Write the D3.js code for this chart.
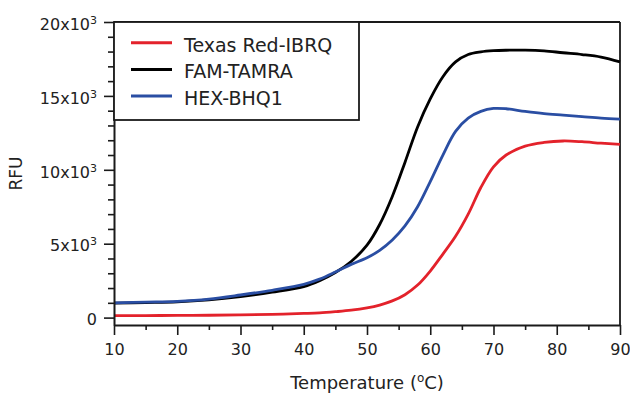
<!DOCTYPE html>
<html>
<head>
<meta charset="utf-8">
<script src="https://cdn.jsdelivr.net/npm/d3@7"></script>
<style>
  html, body { margin: 0; padding: 0; background: #fff; }
  svg { display: block; font-family: "DejaVu Sans", Verdana, sans-serif; }
</style>
</head>
<body>
<svg id="chart" width="630" height="394"></svg>
<script>
// Melting curves: fluorescence (RFU) versus temperature for three probe pairs
const temperature = [10, 15, 20, 25, 30, 35, 40, 42.5, 45, 47.5, 50, 52, 54, 56, 58, 60, 62, 64, 66, 68, 70, 72, 75, 78, 81, 84, 87, 90];

const texasRedIBRQ = [140, 140, 150, 160, 180, 220, 280, 320, 400, 500, 660, 850, 1130, 1550, 2200, 3150, 4300, 5500, 7000, 8800, 10200, 11000, 11600, 11850, 11950, 11900, 11800, 11720];
const famTamra     = [980, 1020, 1070, 1200, 1420, 1720, 2100, 2500, 3050, 3800, 4900, 6300, 8200, 10500, 12900, 14800, 16300, 17300, 17800, 17980, 18060, 18090, 18100, 18050, 17920, 17800, 17630, 17300];
const hexBHQ1      = [1000, 1050, 1100, 1250, 1530, 1850, 2250, 2600, 3080, 3600, 4050, 4550, 5250, 6200, 7500, 9200, 11000, 12600, 13500, 13950, 14150, 14130, 13950, 13800, 13700, 13600, 13500, 13430];

const seriesNames  = ["Texas Red-IBRQ", "FAM-TAMRA", "HEX-BHQ1"];
const seriesColors = ["#e3222b", "#000000", "#2a4ea3"];
const seriesValues = [texasRedIBRQ, famTamra, hexBHQ1];

const xTicks = [10, 20, 30, 40, 50, 60, 70, 80, 90];
const xMinorTicks = [15, 25, 35, 45, 55, 65, 75, 85];
const yTicks = [0, 5000, 10000, 15000, 20000];
const yTickLabels = [["0", ""], ["5x10", "3"], ["10x10", "3"], ["15x10", "3"], ["20x10", "3"]];
const yMinorTicks = [1000, 2000, 3000, 4000, 6000, 7000, 8000, 9000, 11000, 12000, 13000, 14000, 16000, 17000, 18000, 19000];

const svg = d3.select("#chart");
const plotLeft = 114, plotRight = 620, plotTop = 22, plotBottom = 325;

const x = d3.scaleLinear().domain([10, 90]).range([plotLeft, plotRight]);
const y = d3.scaleLinear().domain([-500, 20000]).range([plotBottom, plotTop]);

const axisColor = "#1a1a1a";

// Frame: top and right edges
svg.append("line").attr("x1", plotLeft).attr("x2", plotRight).attr("y1", plotTop).attr("y2", plotTop)
  .attr("stroke", axisColor).attr("stroke-width", 1.8);
svg.append("line").attr("x1", plotRight).attr("x2", plotRight).attr("y1", plotTop).attr("y2", plotBottom)
  .attr("stroke", axisColor).attr("stroke-width", 1.8);

// Curves
const line = d3.line()
  .x((d, i) => x(temperature[i]))
  .y(d => y(d))
  .curve(d3.curveCatmullRom.alpha(0.5));

seriesValues.forEach((vals, k) => {
  svg.append("path")
    .datum(vals)
    .attr("d", line)
    .attr("fill", "none")
    .attr("stroke", seriesColors[k])
    .attr("stroke-width", 2.8)
    .attr("stroke-linejoin", "round");
});

// X axis
const xAxis = svg.append("g").attr("transform", `translate(0,${plotBottom})`)
  .call(d3.axisBottom(x).tickValues(xTicks).tickSize(10).tickSizeOuter(0).tickPadding(9));
svg.append("g").attr("transform", `translate(0,${plotBottom})`)
  .call(d3.axisBottom(x).tickValues(xMinorTicks).tickSize(5).tickSizeOuter(0).tickFormat(() => ""))
  .call(g => g.select(".domain").remove());

// Y axis
const yAxis = svg.append("g").attr("transform", `translate(${plotLeft},0)`)
  .call(d3.axisLeft(y).tickValues(yTicks).tickSize(10).tickSizeOuter(0).tickPadding(7));
svg.append("g").attr("transform", `translate(${plotLeft},0)`)
  .call(d3.axisLeft(y).tickValues(yMinorTicks).tickSize(6).tickSizeOuter(0).tickFormat(() => ""))
  .call(g => g.select(".domain").remove());

svg.selectAll(".domain").attr("stroke", axisColor).attr("stroke-width", 2);
svg.selectAll(".tick line").attr("stroke", axisColor).attr("stroke-width", 1.6);

xAxis.selectAll("text")
  .attr("font-size", 16).attr("fill", "#222")
  .attr("font-family", "DejaVu Sans, sans-serif");

yAxis.selectAll("text")
  .attr("font-size", 16).attr("fill", "#222")
  .attr("font-family", "DejaVu Sans, sans-serif")
  .attr("dy", "0.45em")
  .each(function (d) {
    const i = yTicks.indexOf(d);
    const t = d3.select(this).text("");
    t.append("tspan").text(yTickLabels[i][0]);
    if (yTickLabels[i][1]) {
      t.append("tspan").attr("font-size", 11).attr("dy", -6).text(yTickLabels[i][1]);
    }
  });

// Axis titles
const xTitle = svg.append("text")
  .attr("x", (plotLeft + plotRight) / 2).attr("y", 389)
  .attr("text-anchor", "middle").attr("font-size", 18).attr("fill", "#222");
xTitle.append("tspan").text("Temperature (");
xTitle.append("tspan").attr("font-size", 12).attr("dy", -7).text("o");
xTitle.append("tspan").attr("dy", 7).text("C)");

svg.append("text")
  .attr("transform", `translate(22,${(plotTop + plotBottom) / 2}) rotate(-90)`)
  .attr("text-anchor", "middle").attr("font-size", 17).attr("fill", "#222")
  .text("RFU");

// Legend
const legend = svg.append("g");
legend.append("rect")
  .attr("x", plotLeft).attr("y", plotTop).attr("width", 245).attr("height", 98)
  .attr("fill", "#fff").attr("stroke", axisColor).attr("stroke-width", 1.8);
seriesNames.forEach((name, k) => {
  const ly = 42.7 + k * 26.7;
  legend.append("line")
    .attr("x1", 131).attr("x2", 172).attr("y1", ly).attr("y2", ly)
    .attr("stroke", seriesColors[k]).attr("stroke-width", 3);
  legend.append("text")
    .attr("x", 184).attr("y", ly + 9)
    .attr("font-size", 19).attr("fill", "#222")
    .text(name);
});
</script>
</body>
</html>
